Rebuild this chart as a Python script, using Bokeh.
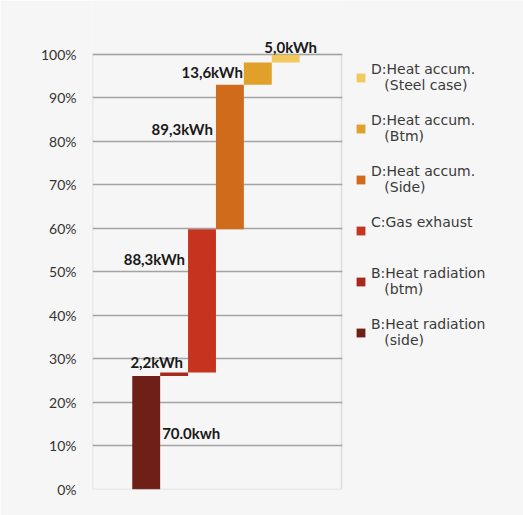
from bokeh.plotting import figure
from bokeh.models import (Range1d, NumeralTickFormatter, Legend, LegendItem,
                          ColumnDataSource, FixedTicker, BoxAnnotation)
from bokeh.core.properties import value
from bokeh.embed import file_html
from bokeh.resources import INLINE
import numpy as np

# ---------------- data ----------------
categories = ["B:Heat radiation (side)", "B:Heat radiation (btm)", "C:Gas exhaust",
              "D:Heat accum. (Side)", "D:Heat accum. (Btm)", "D:Heat accum. (Steel case)"]
IND = "\u00a0\u00a0\u00a0"
legend_labels = ["B:Heat radiation\n" + IND + "(side)",
                 "B:Heat radiation\n" + IND + "(btm)",
                 "C:Gas exhaust\n\u00a0",
                 "D:Heat accum.\n" + IND + "(Side)",
                 "D:Heat accum.\n" + IND + "(Btm)",
                 "D:Heat accum.\n" + IND + "(Steel case)"]
energy_kwh = [70.0, 2.2, 88.3, 89.3, 13.6, 5.0]
value_labels = ["70.0kwh", "2,2kWh", "88,3kWh", "89,3kWh", "13,6kWh", "5,0kWh"]
y_ticks = [0.0, 0.1, 0.2, 0.3, 0.4, 0.5, 0.6, 0.7, 0.8, 0.9, 1.0]

# ---------------- styles ----------------
colors = ["#6E1F17", "#A8281E", "#C6331F", "#D06B1B", "#E0A02A", "#F3C85C"]
label_side = ["right", "right", "left", "left", "left", "center"]   # which bar edge the label hangs on
label_align = ["left", "right", "right", "right", "right", "center"]
label_dx = [2, -5, -3, -3, -1, 5]        # px
label_dy = [57, -10, 30, 44, 9, -7]      # px from bar top (screen, down positive)
BG = "#F6F6F6"
GRID = "#A3A3A3"
# plot box (axes area) in data units; the frame itself extends to the right/top for legend room
box_x0, box_x1 = -1.925, 7.0
x_end = 13.523
y_end = 1.1241

# ---------------- derived ----------------
vals = np.array(energy_kwh)
share = vals / vals.sum()
tops = np.cumsum(share)
bottoms = tops - share
xs = np.arange(len(vals), dtype=float)

src = ColumnDataSource(dict(x=xs, top=tops, bottom=bottoms, color=colors, cat=categories))

edge = {"left": -0.5, "right": 0.5, "center": 0.0}
lsrc = ColumnDataSource(dict(
    x=[xs[i] + edge[label_side[i]] for i in range(len(vals))],
    y=list(tops),
    text=value_labels,
    align=label_align,
    dx=label_dx,
    dy=label_dy,
))

p = figure(width=523, height=515, frame_width=431, frame_height=489,
           output_backend="svg", toolbar_location=None,
           x_range=Range1d(box_x0, x_end), y_range=Range1d(0, y_end),
           min_border_left=92, min_border_right=0, min_border_top=0, min_border_bottom=26)
p.background_fill_color = BG
p.border_fill_color = BG
p.outline_line_color = None

p.xaxis.visible = False
p.xgrid.visible = False
p.yaxis.ticker = FixedTicker(ticks=y_ticks)
p.yaxis.formatter = NumeralTickFormatter(format="0%")
p.yaxis.axis_line_color = None
p.yaxis.major_tick_line_color = None
p.yaxis.minor_tick_line_color = None
p.yaxis.major_tick_out = 0
p.yaxis.major_tick_in = 0
p.yaxis.major_label_standoff = 16
p.yaxis.major_label_text_font = "Lato"
p.yaxis.major_label_text_font_size = "14px"
p.yaxis.major_label_text_color = "#333333"
p.ygrid.ticker = FixedTicker(ticks=y_ticks)
p.ygrid.grid_line_color = GRID
p.ygrid.grid_line_width = 1.5

bars = p.vbar(x="x", top="top", bottom="bottom", width=1.0, source=src,
              fill_color="color", line_color=None)

# hide grid lines outside the plot box (legend region)
p.add_layout(BoxAnnotation(left=box_x1 + 0.03, right=x_end, bottom=-0.1, top=y_end,
                           fill_color=BG, fill_alpha=1.0, line_color=None, level="underlay"))
# plot box outline
p.add_layout(BoxAnnotation(left=box_x0, right=box_x1, bottom=0, top=1,
                           fill_alpha=0, line_color=GRID, line_width=1.5, level="annotation"))

p.text(x="x", y="y", text="text", source=lsrc, text_align="align",
       text_baseline="middle", x_offset="dx", y_offset="dy",
       text_font=value("Lato"), text_font_style="bold", text_font_size="15px",
       text_color="#1a1a1a")

items = [LegendItem(label=legend_labels[i], renderers=[bars], index=i)
         for i in reversed(range(len(vals)))]
legend = Legend(items=items, location=(263, 141), glyph_width=11, glyph_height=11,
                label_standoff=5, label_height=17, spacing=19, padding=6, margin=0,
                border_line_color=None, background_fill_alpha=0,
                label_text_font="DejaVu Sans", label_text_font_size="14px",
                label_text_baseline="top", label_text_line_height=1.3,
                label_text_color="#3a3a3a")
p.add_layout(legend, "center")

open("out.html", "w").write(file_html(p, INLINE))
